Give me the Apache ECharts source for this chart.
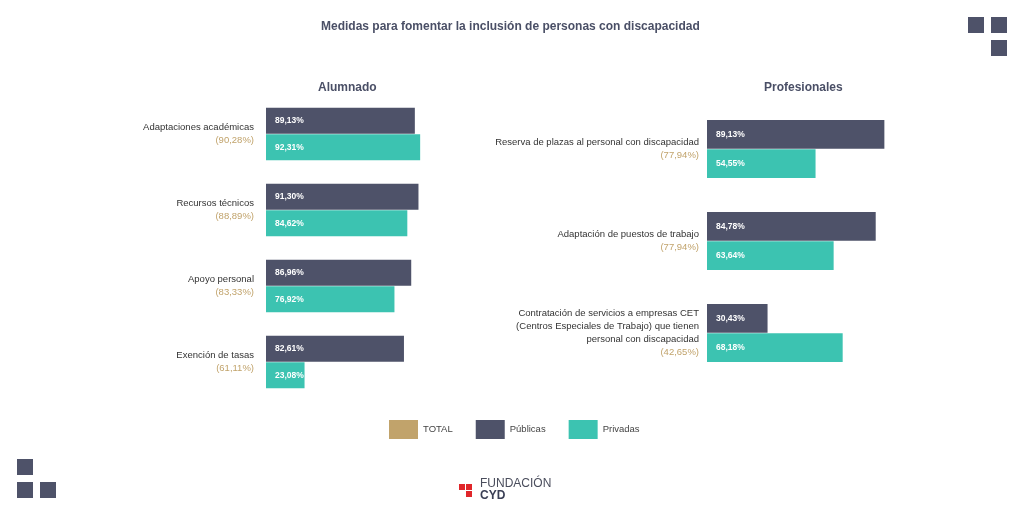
<!DOCTYPE html>
<html lang="es">
<head>
    <meta charset="UTF-8">
    <title>Medidas inclusión</title>
    <script src="https://cdn.jsdelivr.net/npm/echarts@6/dist/echarts.min.js"></script>
    <style>
        html, body { margin: 0; padding: 0; background: #fff; }
        #main { width: 1024px; height: 512px; }
    </style>
</head>
<body>
<div id="main"></div>
<script>
    // datos
    var alumnadoCats = ['Adaptaciones académicas', 'Recursos técnicos', 'Apoyo personal', 'Exención de tasas'];
    var alumnadoTotal = [90.28, 88.89, 83.33, 61.11];
    var alumnadoPublicas = [89.13, 91.30, 86.96, 82.61];
    var alumnadoPrivadas = [92.31, 84.62, 76.92, 23.08];

    var profCats = [
        'Reserva de plazas al personal con discapacidad',
        'Adaptación de puestos de trabajo',
        'Contratación de servicios a empresas CET\n(Centros Especiales de Trabajo) que tienen\npersonal con discapacidad'
    ];
    var profTotal = [77.94, 77.94, 42.65];
    var profPublicas = [89.13, 84.78, 30.43];
    var profPrivadas = [54.55, 63.64, 68.18];

    var C_TOTAL = '#c1a36b';
    var C_PUB = '#4e5269';
    var C_PRIV = '#3cc3b1';
    var FONT = '"Liberation Sans", Arial, sans-serif';

    function pct(v) {
        return v.toFixed(2).replace('.', ',') + '%';
    }

    function catLabels(cats, totals) {
        return function (value, idx) {
            var lines = value.split('\n').map(function (l) { return '{n|' + l + '}'; });
            return lines.join('\n') + '\n{t|(' + pct(totals[idx]) + ')}';
        };
    }

    var barLabel = {
        show: true,
        position: 'insideLeft',
        distance: 9,
        color: '#fff',
        fontSize: 8.5,
        fontWeight: 'bold',
        fontFamily: FONT,
        formatter: function (p) { return pct(p.value); }
    };

    var richCat = {
        n: { fontSize: 9.5, color: '#333', fontFamily: FONT, lineHeight: 13, align: 'right' },
        t: { fontSize: 9.5, color: C_TOTAL, fontFamily: FONT, lineHeight: 13, align: 'right' }
    };

    function sq(x, y, color, s) {
        return { type: 'rect', shape: { x: x, y: y, width: s, height: s }, style: { fill: color } };
    }

    var myChart = echarts.init(document.getElementById('main'));
    myChart.setOption({
        animation: false,
        textStyle: { fontFamily: FONT },
        title: [
            { text: 'Medidas para fomentar la inclusión de personas con discapacidad', left: 316, top: 16,
              textStyle: { fontSize: 12, fontWeight: 'bold', color: '#4a4f66', fontFamily: FONT } },
            { text: 'Alumnado', left: 313, top: 77,
              textStyle: { fontSize: 12, fontWeight: 'bold', color: '#4a4f66', fontFamily: FONT } },
            { text: 'Profesionales', left: 759, top: 77,
              textStyle: { fontSize: 12, fontWeight: 'bold', color: '#4a4f66', fontFamily: FONT } }
        ],
        legend: {
            left: 384,
            top: 415,
            icon: 'rect',
            itemWidth: 29,
            itemHeight: 19,
            itemGap: 23,
            textStyle: { fontSize: 9.5, color: '#444', fontFamily: FONT },
            data: ['TOTAL', 'Públicas', 'Privadas']
        },
        grid: [
            { left: 266, top: 96, width: 167, height: 304 },
            { left: 707, top: 103, width: 199, height: 276 }
        ],
        xAxis: [
            { type: 'value', gridIndex: 0, min: 0, max: 100, show: false },
            { type: 'value', gridIndex: 1, min: 0, max: 100, show: false }
        ],
        yAxis: [
            { type: 'category', gridIndex: 0, inverse: true, data: alumnadoCats,
              axisLine: { show: false }, axisTick: { show: false },
              axisLabel: { margin: 12, formatter: catLabels(alumnadoCats, alumnadoTotal), rich: richCat } },
            { type: 'category', gridIndex: 1, inverse: true, data: profCats,
              axisLine: { show: false }, axisTick: { show: false },
              axisLabel: { margin: 8, formatter: catLabels(profCats, profTotal), rich: richCat } }
        ],
        series: [
            // solo para la leyenda: no ocupa hueco de barra
            { name: 'TOTAL', type: 'line', xAxisIndex: 0, yAxisIndex: 0, data: [],
              itemStyle: { color: C_TOTAL }, lineStyle: { color: C_TOTAL } },
            { name: 'Públicas', type: 'bar', xAxisIndex: 0, yAxisIndex: 0, data: alumnadoPublicas,
              barGap: '2%', barCategoryGap: '31%', itemStyle: { color: C_PUB }, label: barLabel },
            { name: 'Privadas', type: 'bar', xAxisIndex: 0, yAxisIndex: 0, data: alumnadoPrivadas,
              itemStyle: { color: C_PRIV }, label: barLabel },
            { name: 'Públicas', type: 'bar', xAxisIndex: 1, yAxisIndex: 1, data: profPublicas,
              barGap: '2%', barCategoryGap: '37%', itemStyle: { color: C_PUB }, label: barLabel },
            { name: 'Privadas', type: 'bar', xAxisIndex: 1, yAxisIndex: 1, data: profPrivadas,
              itemStyle: { color: C_PRIV }, label: barLabel }
        ],
        graphic: [
            // cuadrados decorativos
            sq(968, 17, C_PUB, 16), sq(991, 17, C_PUB, 16), sq(991, 40, C_PUB, 16),
            sq(17, 459, C_PUB, 16), sq(17, 482, C_PUB, 16), sq(40, 482, C_PUB, 16),
            // logo
            sq(459, 484, '#e0262a', 6), sq(466, 484, '#e0262a', 6), sq(466, 491, '#e0262a', 6),
            { type: 'text', left: 480, top: 478,
              style: { text: 'FUNDACIÓN', fontSize: 12, fill: '#4a4d5c', fontFamily: FONT } },
            { type: 'text', left: 480, top: 490,
              style: { text: 'CYD', fontSize: 12, fontWeight: 'bold', fill: '#3a3f55', fontFamily: FONT } }
        ]
    });
</script>
</body>
</html>
